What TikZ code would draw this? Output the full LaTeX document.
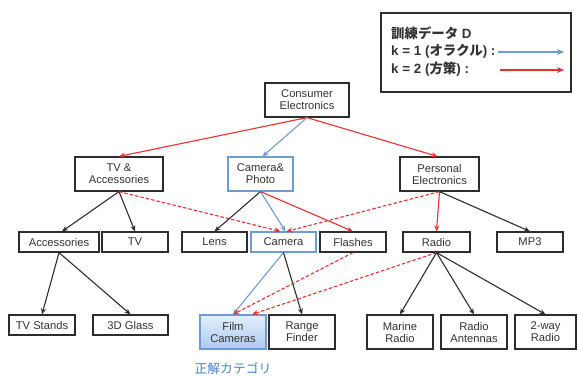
\documentclass[tikz,border=0pt]{standalone}
\usepackage{fontspec}
\setmainfont{Liberation Sans}
\newfontfamily\jp{Noto Sans CJK JP}
\usetikzlibrary{arrows.meta}
\definecolor{eblue}{RGB}{110,155,210}
\definecolor{ered}{RGB}{240,45,45}
\definecolor{boxgray}{RGB}{45,45,45}
\definecolor{lblue}{RGB}{70,130,200}
\begin{document}
\begin{tikzpicture}[x=1pt,y=-1pt,
  box/.style={draw=boxgray, line width=1.2pt, fill=white, inner sep=0pt, align=center,
    font=\fontsize{11.2}{12}\selectfont, text=black!80},
  bbox/.style={box, draw=eblue},
  arr/.style={-{Stealth[length=6pt,width=5pt]}, line width=1.1pt},
  blk/.style={arr, draw=boxgray},
  blu/.style={arr, draw=eblue},
  rd/.style={arr, draw=ered},
  rdd/.style={arr, draw=ered, dashed, dash pattern=on 3.5pt off 2pt},
  legtext/.style={anchor=west, inner sep=0pt, font=\fontsize{13.4}{14}\selectfont\bfseries, text=black!80}]
\useasboundingbox (0,0) rectangle (578,378);
% legend
\node[draw=boxgray, line width=1.3pt, minimum width=190pt, minimum height=79pt, inner sep=0pt] (leg) at (476,52.5) {};
\node[legtext] (l1) at (391,33) {{\jp 訓練データ} D};
\node[legtext] (l2) at (391,51) {k = 1 ({\jp オラクル}) :};
\node[legtext] (l3) at (391,69) {k = 2 ({\jp 方策}) :};
\coordinate (a1) at (498,52); \coordinate (b1) at (564,52);
\coordinate (a2) at (500,70); \coordinate (b2) at (564,70);
\draw[blu, line width=1.3pt, -{Stealth[length=7pt,width=6pt]}] (a1) -- (b1);
\draw[rd, line width=1.3pt, -{Stealth[length=7pt,width=6pt]}] (a2) -- (b2);
% level 0
\node[box, minimum width=84pt, minimum height=34pt] (ce) at (307,100) {Consumer\\Electronics};
% level 1
\node[box, minimum width=88pt, minimum height=34pt] (tva) at (119,174) {TV \&\\Accessories};
\node[bbox, minimum width=65pt, minimum height=34pt] (cp) at (260.5,174) {Camera\&\\Photo};
\node[box, minimum width=79pt, minimum height=34pt] (pe) at (439.5,174) {Personal\\Electronics};
% level 2
\node[box, minimum width=80pt, minimum height=20pt] (acc) at (59,242) {Accessories};
\node[box, minimum width=66pt, minimum height=20pt] (tv) at (135,242) {TV};
\node[box, minimum width=65pt, minimum height=20pt] (lens) at (214.5,242) {Lens};
\node[bbox, minimum width=65pt, minimum height=20pt] (cam) at (283.5,242) {Camera};
\node[box, minimum width=66pt, minimum height=20pt] (fl) at (353,242) {Flashes};
\node[box, minimum width=67pt, minimum height=20pt] (rad) at (436.5,242) {Radio};
\node[box, minimum width=66pt, minimum height=20pt] (mp3) at (530,242) {MP3};
% level 3
\node[box, minimum width=66pt, minimum height=20pt] (tvs) at (42,325) {TV Stands};
\node[box, minimum width=75pt, minimum height=20pt] (g3d) at (130.5,325) {3D Glass};
\node[box, draw=eblue, top color={rgb,255:red,228;green,238;blue,252}, bottom color={rgb,255:red,172;green,202;blue,242}, minimum width=66pt, minimum height=34pt] (film) at (233,332) {Film\\Cameras};
\node[box, minimum width=66pt, minimum height=34pt] (rf) at (302,332) {Range\\Finder};
\node[box, minimum width=66pt, minimum height=34pt] (mr) at (400,332) {Marine\\Radio};
\node[box, minimum width=66pt, minimum height=34pt] (ra) at (474,332) {Radio\\Antennas};
\node[box, minimum width=61pt, minimum height=34pt] (tw) at (545.5,332) {2-way\\Radio};
\node[inner sep=0pt, text=lblue, font=\fontsize{12.8}{13}\selectfont\jp] (lab) at (233,369) {正解カテゴリ};
% edges
\draw[rd] (ce.south) -- (tva.north);
\draw[blu] (ce.south) -- ([xshift=2pt]cp.north);
\draw[rd] (ce.south) -- ([xshift=-2pt]pe.north);
\draw[blk] (tva.south) -- ([xshift=3pt]acc.north);
\draw[blk] (tva.south) -- (tv.north);
\draw[rdd] (tva.south) -- ([xshift=-3pt]cam.north);
\draw[blk] (cp.south) -- (lens.north);
\draw[blu] (cp.south) -- ([xshift=2pt]cam.north);
\draw[rd] (cp.south) -- (fl.north);
\draw[rdd] (pe.south) -- ([xshift=3pt]cam.north);
\draw[rd] (pe.south) -- (rad.north);
\draw[blk] (pe.south) -- (mp3.north);
\draw[blk] (acc.south) -- (tvs.north);
\draw[blk] (acc.south) -- (g3d.north);
\draw[blu] (cam.south) -- (film.north);
\draw[blk] (cam.south) -- (rf.north);
\draw[rdd] (fl.south) -- (film.north);
\draw[rdd] (rad.south) -- ([xshift=19pt]film.north);
\draw[blk] (rad.south) -- (mr.north);
\draw[blk] (rad.south) -- (ra.north);
\draw[blk] (rad.south) -- (tw.north);
\end{tikzpicture}
\end{document}
